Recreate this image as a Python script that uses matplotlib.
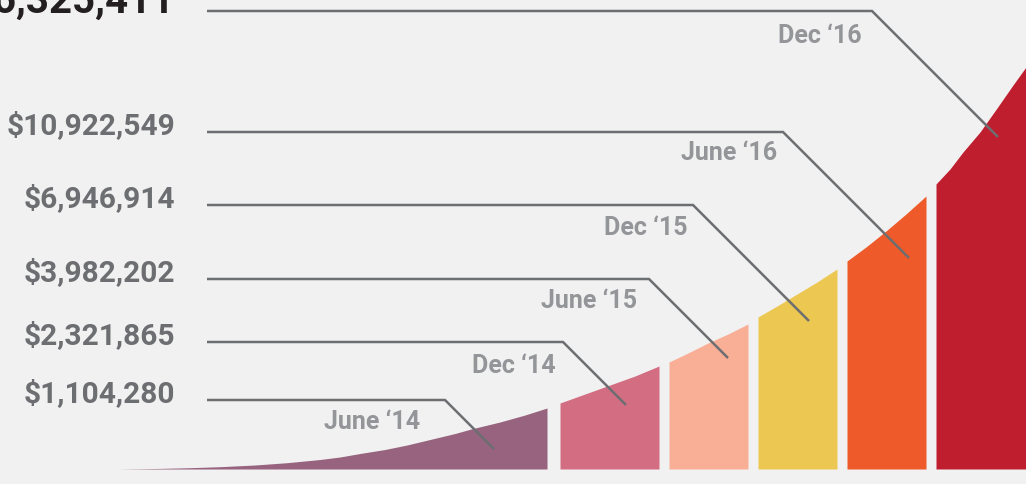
import matplotlib
matplotlib.use("Agg")
import matplotlib.pyplot as plt
import numpy as np

# ---------------- data ----------------
periods = ["June \u201814", "Dec \u201814", "June \u201815", "Dec \u201815", "June \u201816", "Dec \u201816"]
totals = ["$1,104,280", "$2,321,865", "$3,982,202", "$6,946,914", "$10,922,549", "$16,325,411"]
colors = ["#97637e", "#d26d82", "#f9ae96", "#ecc853", "#ef5a2a", "#be1e2e"]

# growth-curve profile (x position, height above base)
profile_x = [118, 140, 160, 190, 220, 255, 287, 320, 340, 360, 385, 407, 430, 455, 473, 500, 525, 547,
             560, 585, 610, 635, 659,
             669, 688, 708, 728, 748,
             758, 777, 797, 817, 837,
             847, 866, 886, 906, 926,
             936, 950, 963, 980, 997, 1013, 1026]
profile_h = [0, 0.3, 0.6, 1.3, 2.3, 4, 6.3, 9.5, 12, 15.5, 19.5, 24, 29.5, 35.5, 40.5, 47, 54, 61,
             66, 75, 84, 93, 103,
             107, 116, 126, 135, 145,
             152, 163, 175, 187, 200,
             208, 222, 238, 255, 273,
             285, 300, 317, 337, 361, 384, 402]

# ---------------- layout ----------------
W, H = 1026, 484
BASE = 469
seg_edges = [(118, 547), (560, 659), (669, 748), (758, 837), (847, 926), (936, 1026)]
line_y = [400, 342, 279, 205, 132, 11]
knee_x = [445, 563, 649, 693, 783, 872]
drop = [49, 63, 79, 116, 126, 126]
date_pos = [(420, 429), (556, 373), (637, 308), (687, 235), (777, 160), (862, 43)]
LINE_X0 = 207
LABEL_X = 175

BG = "#f1f1f1"
fig = plt.figure(figsize=(W / 100, H / 100), dpi=100, facecolor=BG)
ax = fig.add_axes([0, 0, 1, 1])
ax.set_facecolor(BG)
ax.set_xlim(0, W)
ax.set_ylim(H, 0)
ax.axis("off")

px = np.array(profile_x, dtype=float)
ph = np.array(profile_h, dtype=float)
for (x0, x1), c in zip(seg_edges, colors):
    m = (px >= x0) & (px <= x1)
    xs = px[m]
    tops = BASE - ph[m]
    ax.fill_between(xs, BASE, tops, color=c, linewidth=0, zorder=1)

LC = "#6d6e71"
for i in range(len(totals)):
    y = line_y[i]
    kx = knee_x[i]
    d = drop[i]
    ax.plot([LINE_X0, kx, kx + d], [y, y, y + d], color=LC, lw=1.8,
            solid_capstyle="butt", solid_joinstyle="miter", zorder=3)
    if i < len(totals) - 1:
        ax.text(LABEL_X, y + 2, totals[i], ha="right", va="baseline",
                fontsize=21.5, fontweight="bold", color=LC, family="Roboto")
    else:
        ax.text(174, y + 2, totals[i], ha="right", va="baseline",
                fontsize=29, fontweight="bold", color="#231f20", family="Roboto")
    dx, dy = date_pos[i]
    ax.text(dx, dy, periods[i], ha="right", va="baseline",
            fontsize=18, fontweight="bold", color="#939598", family="Roboto", zorder=2)

fig.savefig("out.png", dpi=100, facecolor=BG)
